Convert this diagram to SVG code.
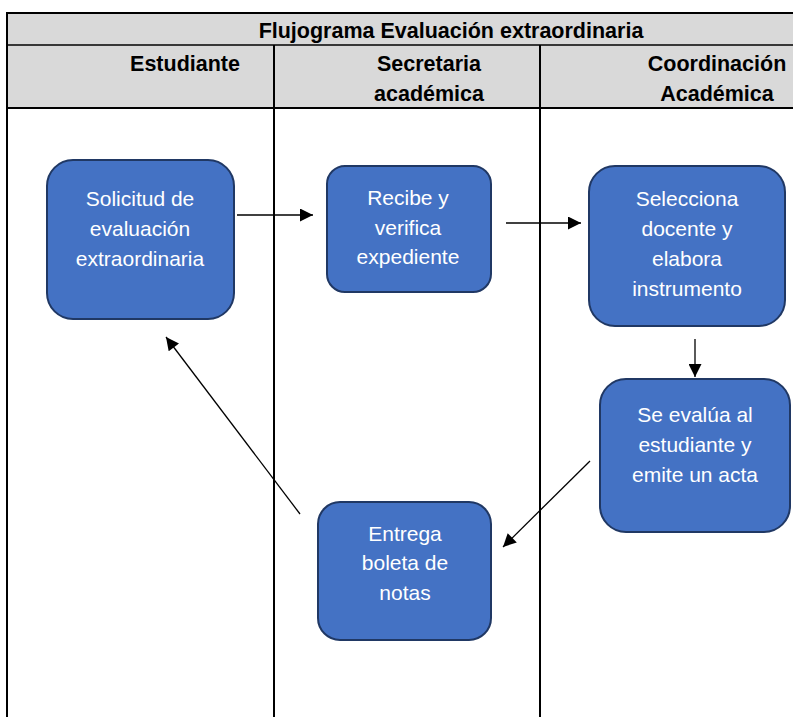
<svg xmlns="http://www.w3.org/2000/svg" width="793" height="717" viewBox="0 0 793 717">
<style>
.hdr{font-family:"Liberation Sans",Arial,sans-serif;font-weight:bold;font-size:21.5px;fill:#000;text-anchor:middle}
.ttl{font-family:"Liberation Sans",Arial,sans-serif;font-weight:bold;font-size:21.5px;fill:#000;text-anchor:middle}
.box{fill:#4472c4;stroke:#203864;stroke-width:2}
.lbl{font-family:"Liberation Sans",Arial,sans-serif;font-size:21px;fill:#fff;text-anchor:middle}
.con{stroke:#000;stroke-width:1.3;fill:none;marker-end:url(#ah)}
</style>
<defs>
<marker id="ah" viewBox="0 0 10 10" refX="10" refY="5" markerUnits="userSpaceOnUse" markerWidth="14" markerHeight="13" orient="auto">
<path d="M0,0 L10,5 L0,10 Z" fill="#000"/>
</marker>
</defs>
<rect width="793" height="717" fill="#fff"/>
<g id="table">
<rect x="7" y="13" width="790" height="95" fill="#d9d9d9"/>
<line x1="6" y1="13" x2="793" y2="13" stroke="#000" stroke-width="2"/>
<line x1="7" y1="45" x2="793" y2="45" stroke="#000" stroke-width="1.5"/>
<line x1="6" y1="108" x2="793" y2="108" stroke="#000" stroke-width="2"/>
<line x1="7" y1="12" x2="7" y2="717" stroke="#000" stroke-width="2"/>
<line x1="274" y1="45" x2="274" y2="717" stroke="#000" stroke-width="2"/>
<line x1="540" y1="45" x2="540" y2="717" stroke="#000" stroke-width="2"/>
<text class="ttl" x="451" y="38">Flujograma Evaluación extraordinaria</text>
<text class="hdr" x="185" y="71">Estudiante</text>
<text class="hdr" x="429" y="71">Secretaria</text>
<text class="hdr" x="429" y="101">académica</text>
<text class="hdr" x="717" y="71">Coordinación</text>
<text class="hdr" x="717" y="101">Académica</text>
</g>
<g id="connectors">
<line class="con" x1="237" y1="215" x2="313" y2="215"/>
<line class="con" x1="506" y1="223" x2="581" y2="223"/>
<line class="con" x1="695" y1="339" x2="695" y2="377"/>
<line class="con" x1="590" y1="461" x2="503" y2="547"/>
<line class="con" x1="300" y1="514" x2="166" y2="337"/>
</g>
<g id="n1">
<rect class="box" x="47" y="160" width="187" height="159" rx="26"/>
<text class="lbl" x="140" y="206">Solicitud de</text>
<text class="lbl" x="140" y="236">evaluación</text>
<text class="lbl" x="140" y="266">extraordinaria</text>
</g>
<g id="n2">
<rect class="box" x="327" y="166" width="164" height="126" rx="18"/>
<text class="lbl" x="408" y="205">Recibe y</text>
<text class="lbl" x="408" y="235">verifica</text>
<text class="lbl" x="408" y="264">expediente</text>
</g>
<g id="n3">
<rect class="box" x="589" y="166" width="196" height="160" rx="26"/>
<text class="lbl" x="687" y="206">Selecciona</text>
<text class="lbl" x="687" y="236">docente y</text>
<text class="lbl" x="687" y="266">elabora</text>
<text class="lbl" x="687" y="296">instrumento</text>
</g>
<g id="n4">
<rect class="box" x="600" y="379" width="190" height="153" rx="26"/>
<text class="lbl" x="695" y="422">Se evalúa al</text>
<text class="lbl" x="695" y="452">estudiante y</text>
<text class="lbl" x="695" y="482">emite un acta</text>
</g>
<g id="n5">
<rect class="box" x="318" y="502" width="173" height="138" rx="22"/>
<text class="lbl" x="405" y="541">Entrega</text>
<text class="lbl" x="405" y="570">boleta de</text>
<text class="lbl" x="405" y="600">notas</text>
</g>
</svg>
